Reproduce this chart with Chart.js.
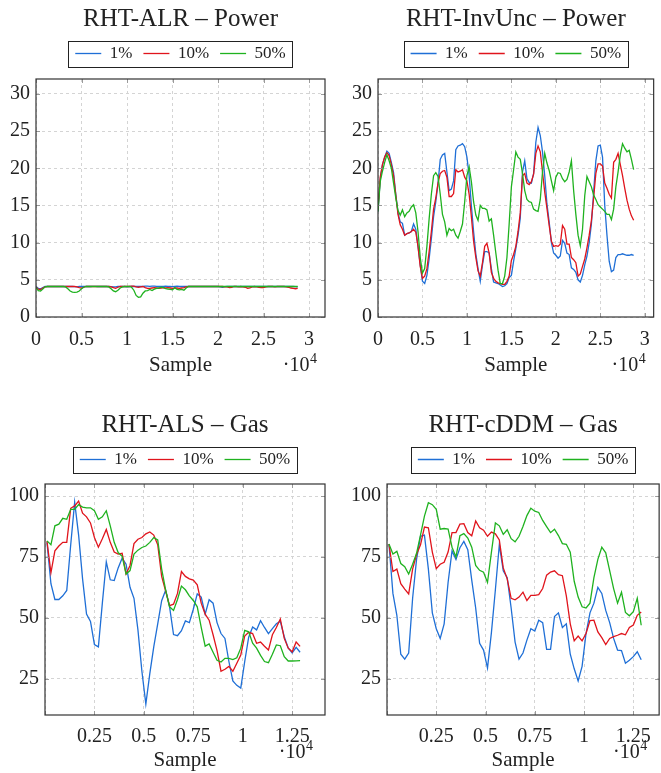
<!DOCTYPE html>
<html><head><meta charset="utf-8">
<script src="https://cdn.jsdelivr.net/npm/chart.js@4.4.1/dist/chart.umd.min.js"></script>
<style>
html,body{margin:0;padding:0;background:#fff;}
#wrap{position:relative;width:661px;height:773px;overflow:hidden;}
canvas{position:absolute;}
</style></head><body>
<div id="wrap">
<canvas id="c1" width="330" height="390" style="left:0px;top:0px"></canvas>
<canvas id="c2" width="331" height="390" style="left:330px;top:0px"></canvas>
<canvas id="c3" width="330" height="368" style="left:0px;top:405px"></canvas>
<canvas id="c4" width="331" height="368" style="left:330px;top:405px"></canvas>
</div>
<script>
// ---------- data ----------
const seriesNames = ['1%', '10%', '50%'];
const lineColors = ['#1f6fd6', '#e0141c', '#1fb21f'];

const powerStep = 250;           // samples between stored points (power)
const gasStart = 100, gasStep = 200; // first sample and spacing (gas)

const powerXTicks = [0, 5000, 10000, 15000, 20000, 25000, 30000];
const powerXTickLabels = ['0', '0.5', '1', '1.5', '2', '2.5', '3'];
const powerYTicks = [0, 5, 10, 15, 20, 25, 30];
const gasXTicks = [0, 2500, 5000, 7500, 10000, 12500];
const gasXTickLabels = ['', '0.25', '0.5', '0.75', '1', '1.25'];
const gasYTicks = [25, 50, 75, 100];

const alr1 = [4.1,3.85,3.8,3.95,4.1,4.12,4.1,4.1,4.12,4.1,
 4.1,4.12,4.1,4.1,4.1,4.12,4.1,4.08,4.05,4.1,
 4.1,4.1,4.12,4.1,4.1,4.12,4.12,4.1,4.1,4.1,
 4.12,4.1,4.1,4.08,4.05,4.05,4.1,4.12,4.1,4.1,
 4.05,4.1,4.12,4.1,4.1,4.12,4.1,4.1,4.15,4.15,
 4.12,4.15,4.15,4.12,4.1,4.1,4.12,4.15,4.12,4.1,
 4.08,4.12,4.15,4.1,4.12,4.1,4.1,4.12,4.1,4.1,
 4.12,4.1,4.1,4.12,4.1,4.1,4.1,4.12,4.1,4.1,
 4.1,4.05,4.0,4.08,4.1,4.12,4.1,4.1,4.1,4.12,
 4.1,4.1,4.12,4.1,4.1,4.1,4.12,4.1,4.1,4.12,
 4.1,4.1,4.12,4.1,4.1,4.12,4.1,4.1,4.12,4.1,
 4.1,4.12,4.1,4.1,4.08,4.05];
const alr10 = [4.05,3.75,3.7,3.9,4.05,4.1,4.1,4.12,4.1,4.1,
 4.1,4.12,4.1,4.1,4.12,4.1,4.1,4.1,4.05,3.95,
 3.9,4.0,4.1,4.1,4.12,4.1,4.1,4.12,4.1,4.1,
 4.1,4.1,4.12,4.05,3.95,3.85,4.0,4.1,4.1,4.12,
 4.1,4.1,4.15,4.15,4.05,4.0,4.05,4.1,3.95,3.85,
 3.85,3.9,3.95,3.9,3.85,3.9,3.95,3.9,3.95,3.9,
 3.85,3.9,3.9,3.85,3.9,3.95,4.05,4.1,4.1,4.12,
 4.1,4.1,4.12,4.1,4.1,4.1,4.12,4.1,4.1,4.1,
 4.12,4.1,4.1,4.05,4.05,3.95,4.0,4.1,4.1,4.05,
 4.1,4.05,4.0,3.85,3.9,4.05,4.1,4.05,4.0,3.95,
 3.95,4.05,4.1,4.1,4.1,4.05,4.1,4.1,4.12,4.1,
 4.05,4.0,3.9,3.85,3.8,3.85];
const alr50 = [4.0,3.55,3.5,3.75,4.05,4.1,4.1,4.12,4.1,4.1,
 4.1,4.12,4.1,4.05,3.8,3.5,3.35,3.3,3.35,3.5,
 3.8,4.0,4.1,4.1,4.12,4.1,4.1,4.1,4.12,4.1,
 4.1,4.1,4.05,3.8,3.5,3.4,3.6,3.9,4.05,4.1,
 4.1,4.1,4.0,3.6,2.9,2.65,2.7,3.2,3.5,3.55,
 3.7,3.55,3.75,3.85,3.9,4.0,3.95,3.8,3.75,3.7,
 3.65,3.95,3.7,3.65,3.7,3.6,3.9,4.1,4.1,4.12,
 4.1,4.1,4.12,4.1,4.1,4.1,4.12,4.1,4.1,4.1,
 4.12,4.1,4.1,4.12,4.1,4.1,4.12,4.1,4.1,4.1,
 4.12,4.1,4.1,4.12,4.1,4.1,4.12,4.1,4.1,4.1,
 4.12,4.1,4.1,4.12,4.1,4.1,4.12,4.1,4.1,4.1,
 4.12,4.1,4.1,4.12,4.1,4.1];

const inv1 = [14.2,18.5,20.5,21.5,22.3,22.0,20.8,19.4,16.5,14.0,
 12.8,12.6,11.0,11.2,11.3,11.5,12.5,11.8,9.5,7.0,
 4.8,4.5,5.6,7.8,10.5,13.5,15.5,18.0,21.2,21.8,
 22.0,19.5,17.0,17.2,18.3,22.5,23.0,23.1,23.3,22.9,
 21.5,19.0,15.0,11.5,8.5,6.5,4.8,7.0,8.8,8.8,
 8.6,6.5,4.7,4.6,4.5,4.3,4.1,4.2,4.5,5.3,
 5.6,7.5,9.2,11.0,13.3,19.5,21.0,18.6,18.1,18.0,
 19.3,23.5,25.5,24.4,22.2,19.0,15.2,12.8,10.0,8.6,
 8.3,7.9,8.2,10.3,9.9,8.6,8.4,6.6,6.4,6.0,
 5.0,4.7,5.6,7.0,8.2,10.0,12.5,16.8,21.0,23.0,
 23.1,21.5,15.0,11.0,7.5,6.1,6.3,8.0,8.4,8.4,
 8.5,8.4,8.3,8.3,8.4,8.3];
const inv10 = [14.5,18.8,20.5,21.5,22.1,21.7,20.5,19.0,16.4,13.8,
 12.4,11.8,11.0,11.2,11.3,11.5,11.8,11.4,9.5,6.8,
 5.2,5.5,6.5,8.8,11.5,14.5,16.0,18.0,19.3,19.6,
 19.7,18.8,16.2,16.2,16.6,19.8,19.5,19.6,19.8,18.8,
 18.3,16.5,13.5,10.2,8.0,6.2,5.5,7.3,9.5,9.9,
 8.6,6.0,5.2,4.8,4.6,4.5,4.4,4.4,4.8,5.5,
 7.6,8.4,9.5,11.5,14.0,19.0,19.3,18.0,17.8,18.2,
 19.2,22.0,23.0,22.2,19.5,16.8,14.6,12.3,10.2,9.5,
 9.6,9.5,9.8,12.3,11.8,9.8,9.8,8.0,7.7,7.3,
 5.5,5.8,6.8,7.8,9.3,11.0,13.0,16.0,19.3,20.6,
 20.6,20.3,18.0,17.3,16.5,16.0,20.8,21.2,22.0,20.5,
 19.0,17.3,15.7,14.5,13.6,13.0];
const inv50 = [14.2,18.2,19.6,20.8,21.8,21.0,20.0,18.0,16.0,14.3,
 13.7,14.4,13.5,14.0,14.2,14.8,15.1,14.0,11.5,8.0,
 5.9,6.5,9.5,13.2,16.5,19.0,19.4,18.9,16.5,13.8,
 12.8,11.0,11.9,11.6,11.8,11.0,10.6,11.5,12.5,15.5,
 19.0,20.2,18.2,15.5,13.7,13.0,15.0,14.6,14.6,14.4,
 12.9,13.2,11.0,8.6,6.3,4.5,4.5,5.5,8.0,12.5,
 17.5,19.8,22.2,21.5,21.2,19.3,17.0,15.8,15.5,15.4,
 14.5,14.3,14.2,15.8,19.5,22.0,20.7,19.7,18.3,17.0,
 18.8,19.4,19.3,18.6,18.2,18.5,19.5,21.0,17.0,13.8,
 11.0,9.6,11.8,16.3,18.9,18.2,17.5,16.4,15.8,15.1,
 14.8,14.5,14.2,13.8,13.8,13.1,14.5,17.5,19.5,21.8,
 23.3,22.7,22.2,22.4,21.2,19.8];

const als1 = [81,64,57.5,57.5,59,61.2,80,97.5,84,66,
 51.5,48.5,39,38,56,73,65.6,65.3,70.5,74.5,
 72,62.5,58,45,28,14.5,27,38,47.5,57,
 61.3,54.5,43.1,42.6,44.7,48.7,48,53.5,59.8,58.5,
 51.5,57.4,56,48,43.5,41.5,32,24,22.2,21.1,
 32,42,46.2,45,48.8,46,43.5,45.5,47.5,48.5,
 42.2,37.6,35.5,37.8,35.8];
const als10 = [81.5,68.5,77.5,79.5,81,81,95,96,98,93,
 91.5,89,83,79,82.5,86.3,81,77,76.2,76.5,
 68,71.5,80.5,82.3,83,84.5,85.3,84,80,67,
 61,55,55.6,60,69,67,66,65.5,63.5,56,
 51.5,49,43,36.5,28,28.8,30,28,31.3,34.7,
 42.5,44,43.5,39.5,40,38.3,36.7,43,46,49.5,
 41.5,37.5,36,40,38.2];
const als50 = [81.6,80,87.8,88.5,90.9,90.5,94.6,94.6,96.5,95.5,
 95.2,95.2,94,90.5,91.5,94,87.8,81,76.8,75.3,
 68,69.4,76.2,77.8,78.9,79.5,81,83,82,70,
 61.5,54.5,53,57.5,63,61.5,59,57.1,54.5,46,
 38.3,39.2,35.8,32.5,31.8,33.3,33.3,32.8,33.5,37.5,
 44.8,44.2,39.5,37.5,34.5,32,31.5,35,38.8,38.5,
 34,32.2,32.2,32.3,32.4];

const cddm1 = [80.3,60,51,35,33,35.5,58,74,83.5,84,
 70,52,45.5,41.5,47.5,64.5,77.5,74,78.8,81.4,
 78,65.5,54,39.5,36.7,29.3,44,61.5,80,69.3,
 66.5,54,40,33,35.5,40.8,45.5,44.5,49,48,
 37,37,50.5,52,46,47.5,35,29,24,30,
 43.5,52,56,62.5,60,53,48,41.5,36.7,36.5,
 31.3,32.5,34,36,32.7];
const cddm10 = [80.3,69,70,64,61.8,59.8,70,76,80,87.3,
 87,77,70.2,72,72.8,77,85,85,88.5,88.7,
 85,83.7,89.8,87,86,83.5,85.2,84.5,82,70.5,
 66,58,57.4,58.5,60.5,57.1,59.2,59.2,59.5,62,
 67.5,68.8,69.3,67.7,67.3,59,47.5,40.5,42.5,40.5,
 43.5,48.8,49,44.2,41.8,39,41.5,42.2,42.8,43.5,
 43,46,47,51,52.4];
const cddm50 = [80.3,76.2,77.3,72.3,71,68,72,76.5,84,91.8,
 97.3,96.5,94.6,86.4,86.7,86.5,79,75,83.7,84.6,
 82.8,79,71.5,69.5,68.7,64.5,77,89,87.8,84.3,
 86.2,82.5,81.2,83.5,87.5,92,95,93.8,93.3,90,
 87.5,85,86.4,83.8,80.5,80.2,77,65,58.5,54.5,
 54,56,66.5,74,79,76.7,69.4,62,56,60.5,
 52.2,50.8,52.5,58,46.9];

// ---------- drawing ----------
const FONT = "'Liberation Serif', 'Times New Roman', serif";
Chart.defaults.font.family = FONT;
Chart.defaults.color = '#222';

const framePlugin = {
  id: 'frame',
  beforeLayout(chart, args, o) {
    // leave a gap between the legend and the plot box
    const lg = chart.legend;
    if (lg && !lg._gapPatched) {
      const fit = lg.fit;
      lg.fit = function () { fit.call(this); this.height += o.legendGap; };
      lg._gapPatched = true;
    }
  },
  afterDraw(chart, args, o) {
    const {ctx, chartArea: a} = chart;
    const xs = chart.scales.x, ys = chart.scales.y;
    ctx.save();
    // inward tick marks
    ctx.strokeStyle = '#9a9a9a';
    ctx.lineWidth = 1;
    ctx.beginPath();
    xs.ticks.forEach(t => {
      const p = Math.round(xs.getPixelForValue(t.value)) + 0.5;
      ctx.moveTo(p, a.bottom); ctx.lineTo(p, a.bottom - 4);
      ctx.moveTo(p, a.top); ctx.lineTo(p, a.top + 4);
    });
    ys.ticks.forEach(t => {
      const p = Math.round(ys.getPixelForValue(t.value)) + 0.5;
      ctx.moveTo(a.left, p); ctx.lineTo(a.left + 4, p);
      ctx.moveTo(a.right, p); ctx.lineTo(a.right - 4, p);
    });
    ctx.stroke();
    // frame
    ctx.strokeStyle = '#333';
    ctx.lineWidth = 1.2;
    ctx.strokeRect(a.left, a.top, a.right - a.left, a.bottom - a.top);
    // legend box
    const hb = chart.legend && chart.legend.legendHitBoxes;
    if (hb && hb.length) {
      const l = hb[0].left - 7;
      const r = hb[hb.length - 1].left + hb[hb.length - 1].width + 7;
      const cy = hb[0].top + hb[0].height / 2;
      ctx.strokeStyle = '#222';
      ctx.lineWidth = 1;
      ctx.strokeRect(Math.round(l) + 0.5, Math.round(cy - 13) + 0.5, Math.round(r - l), 26);
    }
    // axis multiplier
    ctx.fillStyle = '#222';
    ctx.textBaseline = 'alphabetic';
    ctx.textAlign = 'right';
    ctx.font = '14px ' + FONT;
    const xr = a.right - o.expRight;
    ctx.fillText('4', xr, a.bottom + o.expBase - 8);
    const w4 = ctx.measureText('4').width;
    ctx.font = '20px ' + FONT;
    ctx.fillText('\u00B710', xr - w4 - 0.5, a.bottom + o.expBase);
    ctx.restore();
  }
};

function makeChart(id, c) {
  const datasets = c.series.map((vals, k) => ({
    label: seriesNames[k],
    data: vals.map((v, i) => ({x: c.x0 + i * c.step, y: v})),
    borderColor: lineColors[k],
    backgroundColor: lineColors[k],
    borderWidth: 1.3,
    pointRadius: 0,
    tension: 0,
    fill: false,
    order: 3 - k
  }));
  return new Chart(document.getElementById(id), {
    type: 'line',
    data: {datasets},
    plugins: [framePlugin],
    options: {
      responsive: false,
      animation: false,
      events: [],
      layout: {padding: {left: c.padL, right: c.padR, top: 0, bottom: c.padB}},
      plugins: {
        title: {
          display: true, text: c.title, fullSize: false, color: '#222',
          font: {size: 25, weight: 'normal', family: FONT, lineHeight: 1.2},
          padding: {top: c.titleTop, bottom: 0}
        },
        legend: {
          display: true, fullSize: false,
          labels: {
            usePointStyle: true, pointStyle: 'line', pointStyleWidth: 26,
            boxWidth: 26, padding: 11, color: '#222',
            font: {size: 17, family: FONT},
            sort: (a, b) => a.datasetIndex - b.datasetIndex
          }
        },
        tooltip: {enabled: false},
        frame: {expRight: c.expRight, expBase: c.expBase, legendGap: c.legendGap}
      },
      scales: {
        x: {
          type: 'linear', min: 0, max: c.xMax,
          afterBuildTicks: s => { s.ticks = c.xTicks.map(v => ({value: v})); },
          afterFit: s => { s.height = c.xH; },
          ticks: {
            autoSkip: false, maxRotation: 0, padding: c.xTickPad,
            font: {size: 20, family: FONT}, color: '#222',
            callback: (v, i) => c.xLabels[i]
          },
          grid: {color: '#d4d4d4', lineWidth: 1, drawTicks: false},
          border: {display: false, dash: [3, 3]},
          title: {display: true, text: 'Sample', color: '#222',
                  font: {size: 21, family: FONT, lineHeight: 1.2}, padding: {top: 0, bottom: 0}}
        },
        y: {
          type: 'linear', min: c.yMin, max: c.yMax,
          afterBuildTicks: s => { s.ticks = c.yTicks.map(v => ({value: v})); },
          afterFit: s => { s.width = c.yW; },
          ticks: {
            autoSkip: false, padding: 6,
            font: {size: 20, family: FONT}, color: '#222',
            callback: v => String(v)
          },
          grid: {color: '#d4d4d4', lineWidth: 1, drawTicks: false},
          border: {display: false, dash: [3, 3]}
        }
      }
    }
  });
}

const powerCommon = {x0: 0, step: powerStep, xTicks: powerXTicks, xLabels: powerXTickLabels,
  yTicks: powerYTicks, yMin: 0, yMax: 32, yW: 36, xH: 61, padB: 12, xTickPad: 11,
  titleTop: 4, legendGap: 7, expRight: 8, expBase: 54};
const gasCommon = {x0: gasStart, step: gasStep, xTicks: gasXTicks, xLabels: gasXTickLabels,
  yTicks: gasYTicks, yMin: 10, yMax: 105, yW: 45, xH: 58, padB: 0, xTickPad: 10,
  titleTop: 5, legendGap: 6, expRight: 12, expBase: 43};

makeChart('c1', Object.assign({}, powerCommon, {title: 'RHT-ALR \u2013 Power',
  series: [alr1, alr10, alr50], xMax: 31750, padL: 0, padR: 5}));
makeChart('c2', Object.assign({}, powerCommon, {title: 'RHT-InvUnc \u2013 Power',
  series: [inv1, inv10, inv50], xMax: 31000, padL: 12, padR: 1}));
makeChart('c3', Object.assign({}, gasCommon, {title: 'RHT-ALS \u2013 Gas',
  series: [als1, als10, als50], xMax: 14160, padL: 0, padR: 5}));
makeChart('c4', Object.assign({}, gasCommon, {title: 'RHT-cDDM \u2013 Gas',
  series: [cddm1, cddm10, cddm50], xMax: 13810, padL: 12, padR: 1}));
</script>
</body></html>
